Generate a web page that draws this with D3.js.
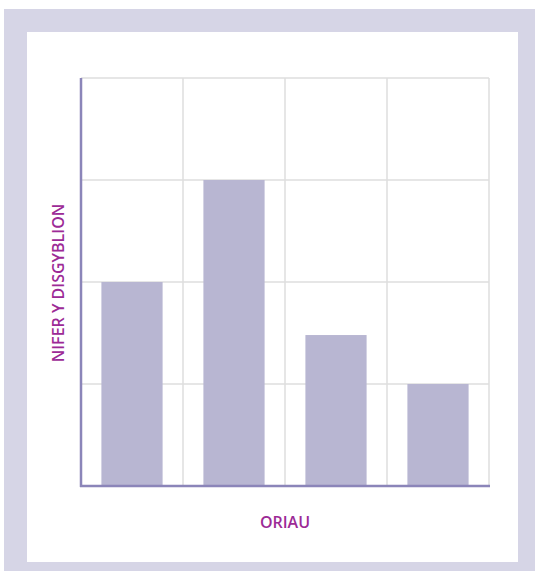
<!DOCTYPE html>
<meta charset="utf-8">
<style>
    body {
        margin: 0;
        padding: 0;
        background: #fff;
    }
    .label {
        font-family: "Open Sans", sans-serif;
        font-weight: 600;
        font-size: 16px;
        fill: #9c2a96;
    }
</style>

<body>

<script src="https://d3js.org/d3.v7.min.js"></script>

<script>

var categories = ["A", "B", "C", "D"];
var values = [2, 3, 1.48, 1];
var yTicks = [0, 1, 2, 3, 4];
var xTitle = "ORIAU";
var yTitle = "NIFER Y DISGYBLION";

var width = 535,
    height = 573;

var svg = d3.select("body")
    .append("svg")
    .attr("width", width)
    .attr("height", height);

// frame
svg.append("rect")
    .attr("x", 4).attr("y", 9)
    .attr("width", 531).attr("height", 562)
    .attr("fill", "#d6d5e6");
svg.append("rect")
    .attr("x", 27).attr("y", 32)
    .attr("width", 491).attr("height", 530)
    .attr("fill", "#fff");

var plotLeft = 81, plotRight = 489, plotTop = 78, plotBottom = 486;

var x = d3.scaleBand()
    .domain(categories)
    .range([plotLeft, plotRight])
    .paddingInner(0.4)
    .paddingOuter(0.2);

var y = d3.scaleLinear()
    .domain([0, 4])
    .range([plotBottom, plotTop]);

// grid
var step = x.step();
var grid = svg.append("g");
grid.selectAll(".h")
    .data(yTicks)
    .enter().append("line")
    .attr("x1", plotLeft).attr("x2", plotRight)
    .attr("y1", d => y(d)).attr("y2", d => y(d))
    .attr("stroke", "#dedede")
    .attr("stroke-width", 1.5);
grid.selectAll(".v")
    .data(categories)
    .enter().append("line")
    .attr("x1", (d, i) => plotLeft + step * (i + 1))
    .attr("x2", (d, i) => plotLeft + step * (i + 1))
    .attr("y1", plotTop).attr("y2", plotBottom)
    .attr("stroke", "#dedede")
    .attr("stroke-width", 1.5);

// bars
svg.selectAll(".bar")
    .data(values)
    .enter().append("rect")
    .attr("x", (d, i) => x(categories[i]))
    .attr("width", x.bandwidth())
    .attr("y", d => y(d))
    .attr("height", d => y(0) - y(d))
    .attr("fill", "#b8b6d2");

// axes
svg.append("line")
    .attr("x1", plotLeft).attr("x2", plotLeft)
    .attr("y1", plotTop).attr("y2", plotBottom + 1)
    .attr("stroke", "#8b85b9")
    .attr("stroke-width", 2.5);
svg.append("line")
    .attr("x1", plotLeft - 1).attr("x2", plotRight + 1)
    .attr("y1", plotBottom).attr("y2", plotBottom)
    .attr("stroke", "#8b85b9")
    .attr("stroke-width", 2.5);

svg.append("text")
    .attr("class", "label")
    .attr("x", (plotLeft + plotRight) / 2)
    .attr("y", 528)
    .attr("text-anchor", "middle")
    .text(xTitle);

svg.append("text")
    .attr("class", "label")
    .attr("transform", "translate(64," + 283 + ") rotate(-90)")
    .attr("text-anchor", "middle")
    .text(yTitle);

</script>
